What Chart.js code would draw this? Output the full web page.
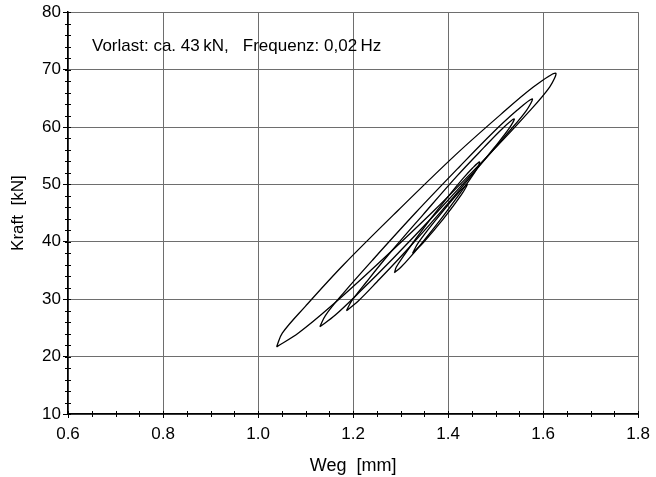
<!DOCTYPE html>
<html>
<head>
<meta charset="utf-8">
<script src="https://cdn.jsdelivr.net/npm/chart.js@4.4.0/dist/chart.umd.min.js"></script>
<style>
  html, body { margin: 0; padding: 0; background: #fff; }
  #wrap { width: 656px; height: 477px; }
</style>
</head>
<body>
<div id="wrap"><canvas id="loopChart"></canvas></div>
<script>
// Weg [mm] / Kraft [kN], one closed loop per array
const loopA = [
  [1.039, 21.7], [1.085, 24.1], [1.154, 28.8], [1.250, 36.0], [1.371, 45.5],
  [1.485, 55.1], [1.565, 62.2], [1.614, 67.0], [1.626, 69.4],
  [1.580, 67.0], [1.511, 62.2], [1.415, 55.1], [1.295, 45.5], [1.180, 36.0],
  [1.100, 28.8], [1.051, 24.1], [1.039, 21.7]
];
const loopB = [
  [1.130, 25.2], [1.162, 27.2], [1.213, 31.2], [1.284, 37.1], [1.376, 45.1],
  [1.463, 53.0], [1.526, 59.0], [1.565, 62.9], [1.577, 64.9],
  [1.545, 62.9], [1.494, 59.0], [1.423, 53.0], [1.332, 45.1], [1.244, 37.1],
  [1.181, 31.2], [1.142, 27.2], [1.130, 25.2]
];
const loopC = [
  [1.186, 28.0], [1.211, 29.7], [1.250, 33.0], [1.307, 38.0], [1.379, 44.7],
  [1.448, 51.4], [1.497, 56.4], [1.528, 59.7], [1.539, 61.4],
  [1.514, 59.7], [1.475, 56.4], [1.418, 51.4], [1.347, 44.7], [1.277, 38.0],
  [1.228, 33.0], [1.197, 29.7], [1.186, 28.0]
];
const loopD = [
  [1.287, 34.6], [1.301, 35.6], [1.322, 37.5], [1.351, 40.4], [1.388, 44.3],
  [1.422, 48.1], [1.447, 51.0], [1.462, 52.9], [1.466, 53.9],
  [1.452, 52.9], [1.431, 51.0], [1.402, 48.1], [1.366, 44.3], [1.331, 40.4],
  [1.306, 37.5], [1.291, 35.6], [1.287, 34.6]
];
const loopE = [
  [1.325, 38.0], [1.347, 39.8], [1.390, 44.0], [1.428, 48.2], [1.440, 50.0],
  [1.418, 48.2], [1.376, 44.0], [1.337, 39.8], [1.325, 38.0]
];
const loops = [loopA, loopB, loopC, loopD, loopE];

const xMin = 0.6, xMax = 1.8, xStep = 0.2, xMinor = 0.05;
const yMin = 10, yMax = 80, yStep = 10, yMinor = 2;
const noteText = "Vorlast: ca. 43\u2009kN,   Frequenz: 0,02\u2009Hz";

const FONT = "'Liberation Sans', Arial, sans-serif";

// minor ticks crossing the axes + the note in the plot
const extras = {
  id: "extras",
  afterDraw(chart) {
    const ctx = chart.ctx;
    const xs = chart.scales.x, ys = chart.scales.y;
    const area = chart.chartArea;
    ctx.save();
    ctx.strokeStyle = "#000";
    ctx.lineWidth = 1;
    ctx.beginPath();
    for (let v = xMin; v <= xMax + 1e-9; v += xMinor) {
      const px = Math.round(xs.getPixelForValue(v)) + 0.5;
      ctx.moveTo(px, area.bottom - 3);
      ctx.lineTo(px, area.bottom + 3);
    }
    for (let v = yMin; v <= yMax + 1e-9; v += yMinor) {
      const py = Math.round(ys.getPixelForValue(v)) + 0.5;
      ctx.moveTo(area.left - 3, py);
      ctx.lineTo(area.left + 3, py);
    }
    ctx.stroke();
    ctx.fillStyle = "#000";
    ctx.font = "17px " + FONT;
    ctx.textBaseline = "middle";
    ctx.textAlign = "left";
    ctx.fillText(noteText, area.left + 24, area.top + 34);
    ctx.restore();
  }
};

new Chart(document.getElementById("loopChart").getContext("2d"), {
  type: "scatter",
  data: {
    datasets: loops.map((loop, i) => ({
      label: "Schleife " + (i + 1),
      data: loop.map(p => ({ x: p[0], y: p[1] })),
      showLine: true,
      borderColor: "#000",
      borderWidth: 1.3,
      pointRadius: 0,
      tension: 0.35,
      fill: false
    }))
  },
  options: {
    responsive: true,
    maintainAspectRatio: false,
    animation: false,
    layout: { padding: { top: 12, right: 17, left: 0, bottom: 0 } },
    plugins: { legend: { display: false }, tooltip: { enabled: false } },
    scales: {
      x: {
        type: "linear",
        min: xMin, max: xMax,
        ticks: { stepSize: xStep, color: "#000", padding: 6, font: { family: FONT, size: 17 } },
        grid: { color: "#6e6e6e", lineWidth: 1, tickLength: 4, tickColor: "#000" },
        border: { color: "#000", width: 1.5 },
        title: { display: true, text: "Weg  [mm]", color: "#000", font: { family: FONT, size: 18 }, padding: { top: 2, bottom: 0 } },
        afterFit(s) { s.height = 63; }
      },
      y: {
        type: "linear",
        min: yMin, max: yMax,
        ticks: { stepSize: yStep, color: "#000", padding: 2, font: { family: FONT, size: 17 } },
        grid: { color: "#6e6e6e", lineWidth: 1, tickLength: 5, tickColor: "#000" },
        border: { color: "#000", width: 1.5 },
        title: { display: true, text: "Kraft  [kN]", color: "#000", font: { family: FONT, size: 17 }, padding: { top: 8, bottom: 0 } },
        afterFit(s) { s.width = 68; }
      }
    }
  },
  plugins: [extras]
});
</script>
</body>
</html>
